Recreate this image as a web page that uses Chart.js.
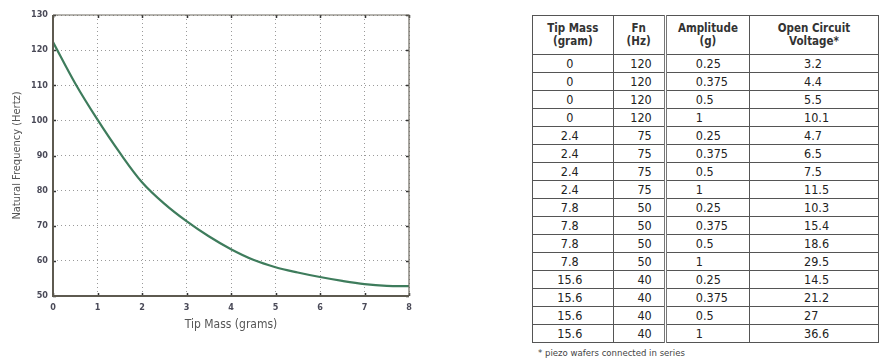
<!DOCTYPE html>
<html>
<head>
<meta charset="utf-8">
<script src="https://cdn.jsdelivr.net/npm/chart.js@4.4.0/dist/chart.umd.min.js"></script>
<style>
  html, body { margin: 0; padding: 0; background: #fff; width: 879px; height: 360px; overflow: hidden; position: relative; }
  #chartBox { position: absolute; left: 0; top: 0; width: 430px; height: 360px; }
  #tbl { position: absolute; left: 532px; top: 15px; border-collapse: collapse; table-layout: fixed;
         font-family: 'Liberation Sans Narrow', 'DejaVu Sans Condensed', 'Liberation Sans', sans-serif; color: #222; }
  #tbl th, #tbl td { border: 1.5px solid #555; padding: 0; overflow: hidden; white-space: nowrap; }
  #tbl thead tr { height: 39px; }
  #tbl tbody tr { height: 18px; }
  #tbl th { font-size: 11.5px; font-weight: bold; line-height: 13px; text-align: center; color: #333; }
  #tbl td { font-size: 12.5px; line-height: 15px; }
  #tbl .c1 { text-align: center; padding-right: 6px; }
  #tbl .c2 { text-align: right; padding-right: 12px; }
  #tbl .c3 { text-align: left; padding-left: 29px; border-left: 3px double #777; }
  #tbl .c4 { text-align: left; padding-left: 54px; }
  #note { position: absolute; left: 538px; top: 347px; font-family: 'Liberation Sans Narrow', 'DejaVu Sans Condensed', sans-serif; font-size: 9.5px; color: #444; }
</style>
</head>
<body>
<div id="chartBox"><canvas id="c"></canvas></div>
<table id="tbl">
  <colgroup><col style="width:87px"><col style="width:56px"><col style="width:89px"><col style="width:140px"></colgroup>
  <thead><tr id="hdr"></tr></thead>
  <tbody id="tb"></tbody>
</table>
<div id="note">* piezo wafers connected in series</div>
<script>
// ---- Chart data ----
const tipMassGrams = [0, 0.5, 1, 1.5, 2, 2.5, 3, 3.5, 4, 4.5, 5, 5.5, 6, 6.5, 7, 7.5, 8];
const naturalFreqHz = [122.3, 110.5, 100.2, 90.8, 82.4, 76.3, 71.3, 67.0, 63.3, 60.3, 58.2, 56.7, 55.4, 54.3, 53.4, 52.9, 52.8];
const xTicks = [0, 1, 2, 3, 4, 5, 6, 7, 8];
const yTicks = [50, 60, 70, 80, 90, 100, 110, 120, 130];

// ---- Table data ----
const tableHeaders = [["Tip Mass", "(gram)"], ["Fn", "(Hz)"], ["Amplitude", "(g)"], ["Open Circuit", "Voltage*"]];
const tableTipMass = ["0", "0", "0", "0", "2.4", "2.4", "2.4", "2.4", "7.8", "7.8", "7.8", "7.8", "15.6", "15.6", "15.6", "15.6"];
const tableFn = ["120", "120", "120", "120", "75", "75", "75", "75", "50", "50", "50", "50", "40", "40", "40", "40"];
const tableAmplitude = ["0.25", "0.375", "0.5", "1", "0.25", "0.375", "0.5", "1", "0.25", "0.375", "0.5", "1", "0.25", "0.375", "0.5", "1"];
const tableVoltage = ["3.2", "4.4", "5.5", "10.1", "4.7", "6.5", "7.5", "11.5", "10.3", "15.4", "18.6", "29.5", "14.5", "21.2", "27", "36.6"];

// build table
const hdr = document.getElementById('hdr');
tableHeaders.forEach((h, i) => {
  const th = document.createElement('th');
  th.innerHTML = h[0] + '<br>' + h[1];
  if (i === 2) th.style.borderLeft = '3px double #777';
  hdr.appendChild(th);
});
const tb = document.getElementById('tb');
for (let r = 0; r < tableTipMass.length; r++) {
  const tr = document.createElement('tr');
  [tableTipMass[r], tableFn[r], tableAmplitude[r], tableVoltage[r]].forEach((v, i) => {
    const td = document.createElement('td');
    td.className = 'c' + (i + 1);
    td.textContent = v;
    tr.appendChild(td);
  });
  tb.appendChild(tr);
}

const FONT = "'Liberation Sans Narrow', 'DejaVu Sans Condensed', 'Liberation Sans', sans-serif";
const PLOT_LEFT = 53, PLOT_BOTTOM = 296;

const frame = {
  id: 'frame',
  afterDraw(chart) {
    const ctx = chart.ctx, a = chart.chartArea;
    const xs = chart.scales.x, ys = chart.scales.y;
    ctx.save();
    ctx.strokeStyle = '#333';
    ctx.lineWidth = 1.5;
    const tl = 3;
    xTicks.forEach(v => {
      const px = Math.round(xs.getPixelForValue(v)) + 0.5;
      ctx.beginPath();
      ctx.moveTo(px, a.bottom); ctx.lineTo(px, a.bottom - tl);
      ctx.moveTo(px, a.top); ctx.lineTo(px, a.top + tl);
      ctx.stroke();
    });
    yTicks.forEach(v => {
      const py = Math.round(ys.getPixelForValue(v)) + 0.5;
      ctx.beginPath();
      ctx.moveTo(a.left, py); ctx.lineTo(a.left + tl, py);
      ctx.moveTo(a.right, py); ctx.lineTo(a.right - tl, py);
      ctx.stroke();
    });
    ctx.strokeStyle = '#6e6a60';
    ctx.lineWidth = 1.2;
    ctx.beginPath();
    ctx.moveTo(a.left, a.top); ctx.lineTo(a.right, a.top); ctx.lineTo(a.right, a.bottom);
    ctx.stroke();
    ctx.strokeStyle = '#5e5a50';
    ctx.lineWidth = 2;
    ctx.beginPath();
    ctx.moveTo(a.left, a.top); ctx.lineTo(a.left, a.bottom); ctx.lineTo(a.right, a.bottom);
    ctx.stroke();
    ctx.restore();
  }
};

new Chart(document.getElementById('c'), {
  type: 'line',
  data: {
    datasets: [{
      data: tipMassGrams.map((x, i) => ({ x: x, y: naturalFreqHz[i] })),
      borderColor: '#3e7c5c',
      borderWidth: 2.2,
      pointRadius: 0,
      fill: false,
      tension: 0.35
    }]
  },
  options: {
    responsive: true,
    maintainAspectRatio: false,
    animation: false,
    events: [],
    layout: { padding: { left: 0, top: 15, right: 21, bottom: 0 } },
    plugins: { legend: { display: false }, tooltip: { enabled: false } },
    scales: {
      x: {
        type: 'linear', min: 0, max: 8,
        afterBuildTicks: s => { s.ticks = xTicks.map(v => ({ value: v })); },
        afterFit: s => { s.height = 360 - PLOT_BOTTOM; },
        border: { display: false, dash: [1, 3] },
        grid: { color: '#9a9a9a', lineWidth: 1, drawTicks: false },
        ticks: { padding: 6, color: '#4a4a58', font: { family: FONT, size: 9, weight: 'bold' }, maxRotation: 0 },
        title: { display: true, text: 'Tip Mass (grams)', color: '#555', font: { family: FONT, size: 12 }, padding: 28 }
      },
      y: {
        type: 'linear', min: 50, max: 130,
        afterBuildTicks: s => { s.ticks = yTicks.map(v => ({ value: v })); },
        afterFit: s => { s.width = PLOT_LEFT; },
        border: { display: false, dash: [1, 3] },
        grid: { color: '#9a9a9a', lineWidth: 1, drawTicks: false },
        ticks: { padding: 5, color: '#4a4a58', font: { family: FONT, size: 9, weight: 'bold' } },
        title: { display: true, text: 'Natural Frequency (Hertz)', color: '#555', font: { family: FONT, size: 11 }, padding: 11 }
      }
    }
  },
  plugins: [frame]
});
</script>
</body>
</html>
